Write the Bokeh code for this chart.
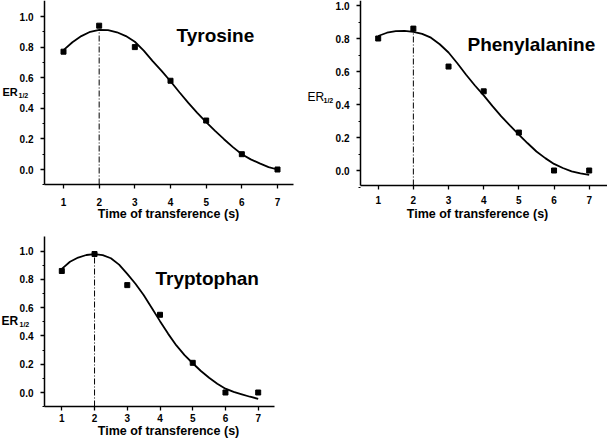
from bokeh.plotting import figure
from bokeh.models import Range1d, FixedTicker, PrintfTickFormatter, Label
from bokeh.layouts import row, column
from bokeh.embed import file_html
from bokeh.resources import INLINE

# ---------------- data ----------------
time_s = [1, 2, 3, 4, 5, 6, 7]
tyr_er = [0.77, 0.94, 0.80, 0.58, 0.32, 0.10, 0.00]
phe_er = [0.80, 0.86, 0.63, 0.48, 0.23, 0.00, 0.00]
trp_er = [0.86, 0.98, 0.76, 0.55, 0.21, 0.00, 0.00]

# fitted curves
fit_x = [1.0, 1.25, 1.5, 1.75, 2.0, 2.25, 2.5, 2.75, 3.0, 3.25, 3.5, 3.75, 4.0,
         4.25, 4.5, 4.75, 5.0, 5.25, 5.5, 5.75, 6.0, 6.25, 6.5, 6.75, 7.0]
tyr_fit = [0.780, 0.832, 0.872, 0.900, 0.913, 0.911, 0.897, 0.872, 0.835, 0.777,
           0.708, 0.645, 0.577, 0.505, 0.435, 0.370, 0.310, 0.252, 0.198, 0.146,
           0.100, 0.066, 0.040, 0.016, 0.000]
phe_fit = [0.815, 0.835, 0.845, 0.846, 0.840, 0.828, 0.805, 0.765, 0.715, 0.650,
           0.580, 0.515, 0.455, 0.390, 0.328, 0.272, 0.218, 0.165, 0.115, 0.075,
           0.040, 0.015, -0.005, -0.018, -0.027]
trp_fit = [0.875, 0.925, 0.955, 0.973, 0.980, 0.972, 0.950, 0.905, 0.840, 0.770,
           0.690, 0.598, 0.505, 0.415, 0.333, 0.265, 0.207, 0.152, 0.104, 0.062,
           0.027, 0.004, -0.013, -0.030, -0.045]

# optimum marked by the dash-dot line: (time, fitted ER)
tyr_peak = [2, 0.913]
phe_peak = [2, 0.840]
trp_peak = [2, 0.980]

x_ticks = [1, 2, 3, 4, 5, 6, 7]
y_ticks = [0.0, 0.2, 0.4, 0.6, 0.8, 1.0]
y_minor = [-0.1, 0.1, 0.3, 0.5, 0.7, 0.9]

names = ["Tyrosine", "Phenylalanine", "Tryptophan"]
x_title = "Time of transference (s)"
y_title = "ER"
y_sub = "1/2"

FONT = "Liberation Sans"


# ---------------- layout calibration (page pixels) ----------------
def to_data(g, px, py):
    """page pixel -> data value, calibrated on the x=1/x=7 and y=0/y=1 ticks"""
    a1, a7 = g["xcal"]
    b0, b1 = g["ycal"]
    return 1 + (px - a1) * 6.0 / (a7 - a1), (py - b0) / (b1 - b0)


def panel(g, xs, ys, fx, fy, peak, name):
    cx, cy = g["canvas"]
    w, h = g["size"]
    xl, yb = to_data(g, cx, cy + h)
    xr, yt = to_data(g, cx + w, cy)
    p = figure(width=w, height=h, output_backend="svg", toolbar_location=None,
               x_range=Range1d(xl, xr), y_range=Range1d(yb, yt),
               min_border_left=0, min_border_right=0,
               min_border_top=0, min_border_bottom=0)
    p.outline_line_color = None
    p.xgrid.visible = False
    p.ygrid.visible = False

    ax_x, ax_y = to_data(g, g["yaxis_px"], g["xaxis_py"])
    x_end, _ = to_data(g, g["xaxis_end"], 0)
    _, y_end = to_data(g, 0, g["yaxis_end"])

    p.xaxis.fixed_location = ax_y
    p.yaxis.fixed_location = ax_x
    p.xaxis.bounds = (ax_x, x_end)
    p.yaxis.bounds = (ax_y, y_end)

    p.xaxis.ticker = FixedTicker(ticks=x_ticks)
    p.yaxis.ticker = FixedTicker(ticks=y_ticks, minor_ticks=y_minor)
    p.yaxis.formatter = PrintfTickFormatter(format="%.1f")
    for ax in (p.xaxis, p.yaxis):
        ax.axis_line_width = 1.5
        ax.axis_line_color = "black"
        ax.major_tick_line_width = 1.3
        ax.major_tick_line_color = "black"
        ax.minor_tick_line_width = 1.2
        ax.minor_tick_line_color = "black"
        ax.major_tick_in = 0
        ax.major_tick_out = 4
        ax.minor_tick_in = 0
        ax.minor_tick_out = 2
        ax.major_label_text_font = FONT
        ax.major_label_text_font_style = "bold"
        ax.major_label_text_font_size = "10px"
        ax.major_label_text_color = "black"
    p.xaxis.major_label_standoff = g["xstand"]
    p.yaxis.major_label_standoff = 7

    p.segment(x0=[peak[0]], y0=[ax_y], x1=[peak[0]], y1=[peak[1]],
              line_color="black", line_width=1, line_dash="6 2 1 2")
    p.line(fx, fy, line_color="black", line_width=1.8)
    p.scatter(xs, ys, marker="square", size=5, fill_color="black",
              line_color="black")

    def txt(text, pos, size, style="bold", align="center"):
        x, y = to_data(g, *pos)
        p.add_layout(Label(x=x, y=y, text=text, text_font=FONT,
                           text_font_style=style, text_font_size=size,
                           text_color="black", text_align=align,
                           text_baseline="middle"))

    txt(name, g["name_px"], "19px", align="left")
    txt(x_title, g["title_px"], "12.5px")
    # y title: "ER" with subscript "1/2", set between two tick labels
    txt(y_title, g["er_px"], g["er_size"], style=g["er_style"], align="left")
    txt(y_sub, g["sub_px"], "7px", align="left")
    return p


g1 = dict(canvas=(0, 0), size=(300, 222), xcal=(63, 277), ycal=(169, 16),
          yaxis_px=44, xaxis_py=184, xaxis_end=293, yaxis_end=0, xstand=9,
          name_px=(176, 35), title_px=(168, 213.5),
          er_px=(2, 91), sub_px=(18, 95), er_size="11px", er_style="bold")
g2 = dict(canvas=(300, 0), size=(307, 222), xcal=(377.7, 588.7), ycal=(170, 5),
          yaxis_px=360, xaxis_py=185, xaxis_end=607, yaxis_end=0, xstand=6,
          name_px=(467, 43.5), title_px=(477, 213.5),
          er_px=(307, 96), sub_px=(323, 100), er_size="12px", er_style="normal")
g3 = dict(canvas=(0, 222), size=(300, 218), xcal=(61.3, 257.7), ycal=(392, 250.7),
          yaxis_px=44, xaxis_py=406, xaxis_end=274, yaxis_end=236, xstand=3,
          name_px=(155, 278), title_px=(168, 430),
          er_px=(1, 320), sub_px=(19, 324), er_size="12px", er_style="bold")

p1 = panel(g1, time_s, tyr_er, fit_x, tyr_fit, tyr_peak, names[0])
p2 = panel(g2, time_s, phe_er, fit_x, phe_fit, phe_peak, names[1])
p3 = panel(g3, time_s, trp_er, fit_x, trp_fit, trp_peak, names[2])

layout = row(column(p1, p3), p2)

open("out.html", "w").write(file_html(layout, INLINE))
